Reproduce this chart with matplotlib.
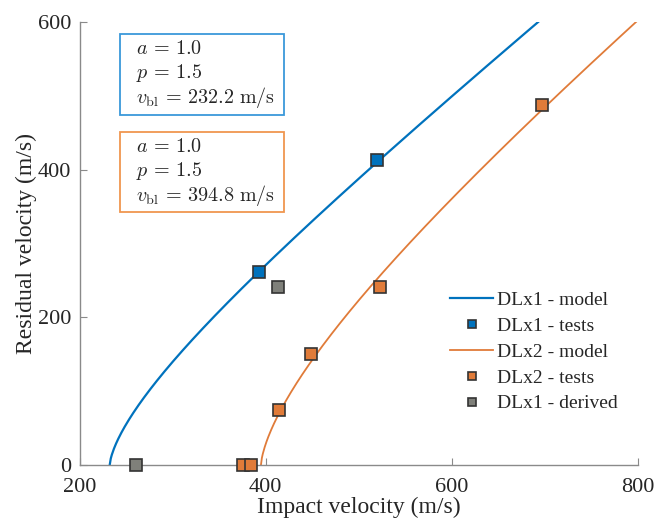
import numpy as np
import matplotlib
matplotlib.use("Agg")
import matplotlib.pyplot as plt
from matplotlib.patches import Rectangle

plt.rcParams["font.family"] = ["Liberation Serif", "DejaVu Serif"]
plt.rcParams["mathtext.fontset"] = "cm"

# model parameters (Lambert-Jonas)
a_fit = 1.0
p_fit = 1.5
vbl_dlx1 = 232.2
vbl_dlx2 = 394.8

# test data
dlx1_vi = [393, 520]
dlx1_vr = [262, 413]
dlx2_vi = [375, 384, 414, 449, 523, 697]
dlx2_vr = [0, 0, 75, 150, 241, 488]
derived_vi = [261, 413]
derived_vr = [0, 241]

blue = "#0072BD"
orange = "#E07B39"
gray = "#7F807A"
txt = "#262626"


def model(vbl, vmax=600):
    vi_top = (vmax ** p_fit / a_fit ** p_fit + vbl ** p_fit) ** (1 / p_fit)
    vi = np.linspace(vbl, vi_top, 400)
    vr = a_fit * np.clip(vi ** p_fit - vbl ** p_fit, 0, None) ** (1 / p_fit)
    return vi, vr


fig = plt.figure(figsize=(6.7, 5.25), dpi=100)
ax = fig.add_axes([0.119, 0.114, 0.833, 0.844])

mk = dict(ls="none", marker="s", markersize=8, markeredgecolor="#333333",
          markeredgewidth=1.2, clip_on=False, zorder=4)

x1, y1 = model(vbl_dlx1)
x2, y2 = model(vbl_dlx2)
ax.plot(x1, y1, color=blue, lw=1.6, label="DLx1 - model")
ax.plot(dlx1_vi, dlx1_vr, color=blue, label="DLx1 - tests", **mk)
ax.plot(x2, y2, color=orange, lw=1.3, label="DLx2 - model")
ax.plot(dlx2_vi, dlx2_vr, color=orange, label="DLx2 - tests", **mk)
ax.plot(derived_vi, derived_vr, color=gray, label="DLx1 - derived", **mk)

ax.set_xlim(200, 800)
ax.set_ylim(0, 600)
ax.set_xticks([200, 400, 600, 800])
ax.set_yticks([0, 200, 400, 600])
for s in ["top", "right"]:
    ax.spines[s].set_visible(False)
for s in ["left", "bottom"]:
    ax.spines[s].set_color("#8a8a8a")
    ax.spines[s].set_linewidth(1.0)
ax.tick_params(direction="in", length=5, color="#8a8a8a", labelsize=16,
               labelcolor=txt)
ax.tick_params(axis="x", pad=9)
ax.tick_params(axis="y", pad=6)
ax.set_xlabel("Impact velocity (m/s)", fontsize=17, color=txt, labelpad=0)
ax.set_ylabel("Residual velocity (m/s)", fontsize=17, color=txt, labelpad=1)

# parameter boxes
boxes = [(vbl_dlx1, "#3A98DA", 0.973, 0.790), (vbl_dlx2, "#F0964F", 0.752, 0.571)]
for vbl, ec, top, bot in boxes:
    ax.add_patch(Rectangle((0.0717, bot), 0.295, top - bot, transform=ax.transAxes,
                           fc="white", ec=ec, lw=1.3, zorder=5))
    lines = [r"$a\,=\,1.0$", r"$p\,=\,1.5$",
             r"$v_{\mathrm{bl}}\,=\,%.1f\ \mathrm{m/s}$" % vbl]
    for i, s in enumerate(lines):
        ax.text(0.1, top - 0.035 - 0.054 * i, s, transform=ax.transAxes,
                fontsize=14.5, va="center", ha="left", color=txt, zorder=6)

leg = ax.legend(loc="upper right", bbox_to_anchor=(0.985, 0.418), frameon=False,
                fontsize=14, handlelength=2.2, handletextpad=0.2,
                labelspacing=0.42, markerscale=0.7, borderaxespad=0.2)
for t in leg.get_texts():
    t.set_color(txt)

fig.savefig("out.png", dpi=100)
